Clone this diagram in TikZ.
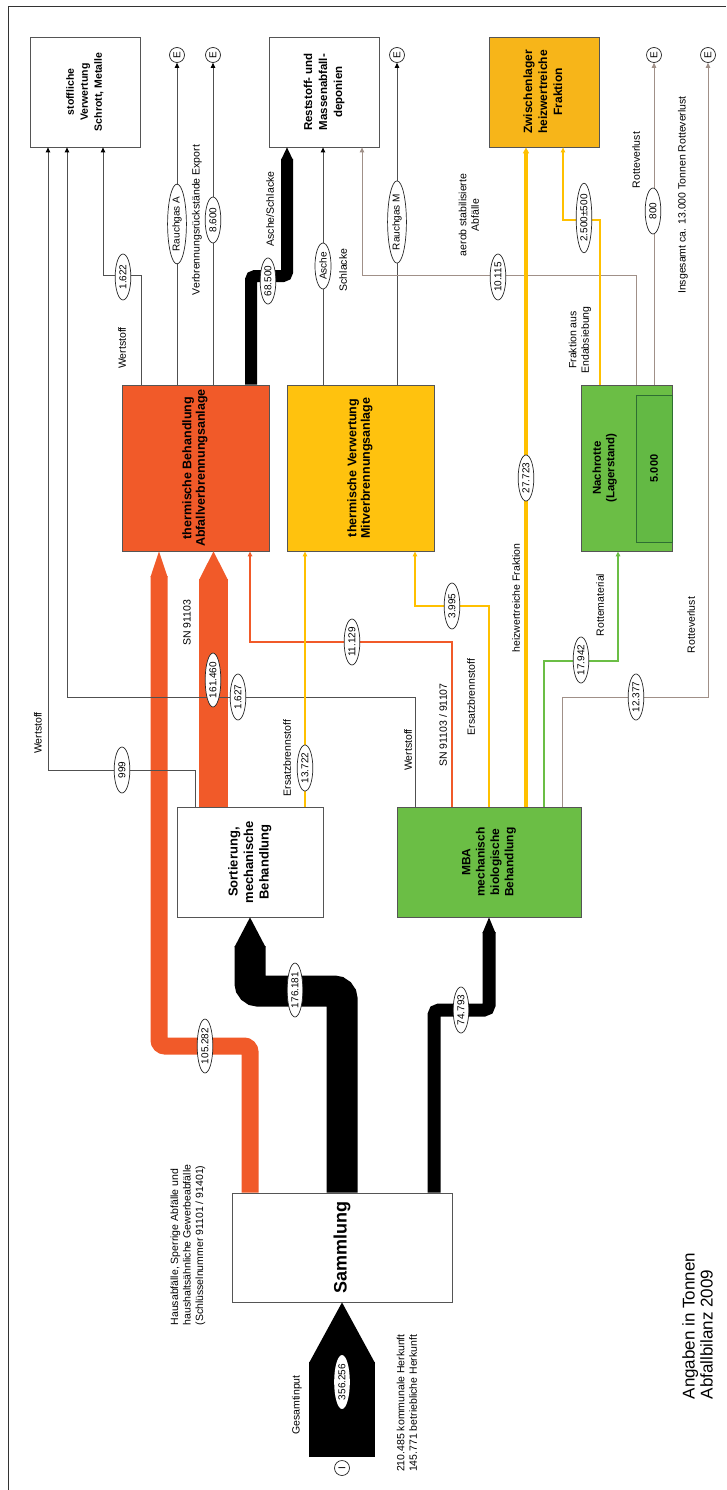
\documentclass[tikz,border=0pt]{standalone}
\usepackage{fontspec}
\setmainfont{Liberation Sans}
\usetikzlibrary{arrows.meta,shapes.geometric}
\definecolor{redc}{HTML}{F15A29}
\definecolor{yelbox}{HTML}{FFC20E}
\definecolor{yelline}{HTML}{FFC000}
\definecolor{zwfill}{HTML}{F7B519}
\definecolor{grn}{HTML}{6BBE45}
\definecolor{grnin}{HTML}{63B944}
\definecolor{grndark}{HTML}{2E6E32}
\definecolor{dgray}{HTML}{505050}
\definecolor{lbrown}{HTML}{A09088}
\definecolor{bordc}{HTML}{555555}
\newcommand\Rot[1]{\rotatebox{90}{#1}}
\newcommand\RotC[1]{\rotatebox{90}{\begin{tabular}{@{}c@{}}#1\end{tabular}}}
\newcommand\RotL[1]{\rotatebox{90}{\begin{tabular}{@{}l@{}}#1\end{tabular}}}
\tikzset{
  box/.style={draw=bordc, line width=0.8pt, rectangle, inner sep=0pt, font=\bfseries\fontsize{12}{14}\selectfont},
  lbl/.style={ellipse, draw=black!85, fill=white, line width=0.7pt, inner xsep=2pt, inner ysep=1pt, minimum height=46pt, font=\fontsize{10}{12}\selectfont},
  txt/.style={inner sep=0pt, font=\fontsize{10.5}{12.5}\selectfont},
  ec/.style={circle, draw=black!85, fill=white, line width=0.7pt, minimum size=15pt, inner sep=0pt, font=\fontsize{10}{12}\selectfont},
  lnGray/.style={-{Triangle[length=5pt,width=4.5pt,color=black]}, draw=dgray, line width=0.9pt},
  lnBrown/.style={-{Triangle[length=5pt,width=4.5pt]}, draw=lbrown, line width=0.9pt},
  lnYel/.style={-{Triangle[length=5pt,width=4.5pt]}, draw=yelline, line width=1.1pt},
  lnYelThick/.style={-{Triangle[length=6pt,width=6pt]}, draw=yelline, line width=3.5pt},
  lnRed/.style={-{Triangle[length=5pt,width=4.5pt]}, draw=redc, line width=1.6pt},
  lnGreen/.style={-{Triangle[length=5pt,width=4.5pt]}, draw=grn, line width=2.4pt},
}
\begin{document}
\begin{tikzpicture}[x=1pt,y=-1pt]
\useasboundingbox (0,0) rectangle (726,1490);
\fill[white] (0,0) rectangle (726,1490);
\draw[line width=1pt, black!80] (8,1490) -- (8,7) -- (726,7);

% ---------- boxes ----------
\node[box, fill=white, minimum width=110pt, minimum height=110pt, font=\bfseries\fontsize{10.5}{14}\selectfont] (stoff) at (85,92) {\RotC{stoffliche\\Verwertung\\Schrott, Metalle}};
\node[box, fill=white, minimum width=110pt, minimum height=110pt, font=\bfseries\fontsize{11.5}{15}\selectfont] (rest) at (324,92) {\RotC{Reststoff- und\\Massenabfall-\\deponien}};
\node[box, fill=zwfill, minimum width=110pt, minimum height=110pt, font=\bfseries\fontsize{12}{15}\selectfont] (zw) at (544,92) {\RotC{Zwischenlager\\heizwertreiche\\Fraktion}};
\node[box, fill=redc, minimum width=147pt, minimum height=166pt, font=\bfseries\fontsize{12.5}{13.5}\selectfont] (therm) at (195.5,468) {\RotC{thermische Behandlung\\Abfallverbrennungsanlage}};
\node[box, fill=yelbox, minimum width=147pt, minimum height=166pt, font=\bfseries\fontsize{12.5}{13.5}\selectfont] (mitv) at (360.5,468) {\RotC{thermische Verwertung\\Mitverbrennungsanlage}};
\node[box, fill=grn, minimum width=91pt, minimum height=166pt] (nach) at (626.5,468) {};
\node[box, draw=grndark, fill=grnin, minimum width=36pt, minimum height=147pt, font=\bfseries\fontsize{11}{13}\selectfont] (nachin) at (654,468.5) {\Rot{5.000}};
\node[inner sep=0pt, font=\bfseries\fontsize{11.5}{13.5}\selectfont] (nachT) at (605,468) {\RotC{Nachrotte\\(Lagerstand)}};
\node[box, fill=white, minimum width=146pt, minimum height=110pt, font=\bfseries\fontsize{13}{15.5}\selectfont] (sort) at (250,862) {\RotC{Sortierung,\\mechanische\\Behandlung}};
\node[box, fill=grn, minimum width=184pt, minimum height=110pt, font=\bfseries\fontsize{12}{14.3}\selectfont] (mba) at (489,862) {\RotC{MBA\\mechanisch\\biologische\\Behandlung}};
\node[box, fill=white, minimum width=220pt, minimum height=109pt, font=\bfseries\fontsize{18}{20}\selectfont] (samm) at (342,1247.5) {\Rot{Sammlung}};

% ---------- end circles ----------
\node[ec] (eA) at (177,55) {\Rot{E}};
\node[ec] (eB) at (213,55) {\Rot{E}};
\node[ec] (eM) at (397,55) {\Rot{E}};
\node[ec] (eR1) at (654,55) {\Rot{E}};
\node[ec] (eR2) at (708,55) {\Rot{E}};
\node[ec] (eI) at (342,1468) {\Rot{I}};

% ---------- thick bands ----------
\coordinate (inb) at (342,1457);
\draw[black, line width=66pt] (inb) -- (342,1362);
\fill[black] (309,1363) -- (samm.south) -- (375,1363) -- cycle;

\draw[redc, line width=17pt, rounded corners=6pt] (samm.north -| 250,0) |- (159,1046) -- (159,576);
\fill[redc] (150.5,577) -- (therm.south -| 159,0) -- (167.5,577) -- cycle;

\draw[redc, line width=29pt] (sort.north -| 213.5,0) -- (213.5,579);
\fill[redc] (199,580) -- (therm.south -| 213.5,0) -- (228,580) -- cycle;

\draw[black, line width=31pt, rounded corners=8pt] (samm.north -| 342,0) |- (250,991) -- (250,946);
\fill[black] (234.5,947) -- (sort.south -| 250,0) -- (265.5,947) -- cycle;

\draw[black, line width=13pt, rounded corners=5pt] (samm.north -| 434,0) |- (489,1010) -- (489,932);
\fill[black] (482.5,933) -- (mba.south -| 489,0) -- (495.5,933) -- cycle;

\draw[black, line width=12pt, rounded corners=4pt] (therm.north -| 251,0) |- (287,276) -- (287,159);
\fill[black] (281,160) -- (rest.south -| 287,0) -- (293,160) -- cycle;

% ---------- thin connectors ----------
\draw[lnGray] (sort.north -| 195,0) |- (48,770) -- (stoff.south -| 48,0);
\draw[lnGray] (mba.north -| 415,0) |- (67,697) -- (stoff.south -| 67,0);
\draw[lnGray] (therm.north -| 141,0) |- (103,275) -- (stoff.south -| 103,0);
\draw[lnGray] (therm.north -| 177,0) -- (eA);
\draw[lnGray] (therm.north -| 213,0) -- (eB);
\draw[lnGray] (mitv.north -| 323,0) -- (rest.south -| 323,0);
\draw[lnGray] (mitv.north -| 397,0) -- (eM);
\draw[lnBrown] (nach.north -| 636,0) |- (362,275) -- (rest.south -| 362,0);
\draw[lnBrown] (nach.north -| 654,0) -- (eR1);
\draw[lnBrown] (mba.north -| 562,0) |- (708,697) -- (eR2);
\draw[lnYelThick] (mba.north -| 526,0) -- (zw.south -| 526,0);
\draw[lnYel] (nach.north -| 600,0) |- (563,220) -- (zw.south -| 563,0);
\draw[lnGreen] (mba.north -| 544,0) |- (618,661) -- (nach.south -| 618,0);
\draw[lnYel] (mba.north -| 489,0) |- (415,606) -- (mitv.south -| 415,0);
\draw[lnRed] (mba.north -| 452,0) |- (250,642) -- (therm.south -| 250,0);
\draw[lnYel] (sort.north -| 305,0) -- (mitv.south -| 305,0);

% ---------- value labels ----------
\node[lbl] (n999) at (122,770) {\Rot{999}};
\node[lbl] (n1627) at (238,697) {\Rot{1.627}};
\node[lbl] (n1622) at (123,277) {\Rot{1.622}};
\node[lbl] (nRA) at (177,224) {\Rot{Rauchgas A}};
\node[lbl] (n8600) at (213,220) {\Rot{8.600}};
\node[lbl] (n68500) at (268,281) {\Rot{68.500}};
\node[lbl] (nAsche) at (323,266) {\Rot{Asche}};
\node[lbl] (nRM) at (397,222) {\Rot{Rauchgas M}};
\node[lbl] (n10115) at (498,277) {\Rot{10.115}};
\node[lbl] (n27723) at (526,478) {\Rot{27.723}};
\node[lbl] (n2500) at (584,218) {\Rot{2.500±500}};
\node[lbl] (n800) at (653,211) {\Rot{800}};
\node[lbl] (n12377) at (636,697) {\Rot{12.377}};
\node[lbl] (n17942) at (581,660) {\Rot{17.942}};
\node[lbl] (n3995) at (452,606) {\Rot{3.995}};
\node[lbl] (n11129) at (352,642) {\Rot{11.129}};
\node[lbl] (n13722) at (305,768) {\Rot{13.722}};
\node[lbl] (n161460) at (213,680) {\Rot{161.460}};
\node[lbl] (n105282) at (205,1046) {\Rot{105.282}};
\node[lbl] (n176181) at (295,990) {\Rot{176.181}};
\node[lbl] (n74793) at (461,1010) {\Rot{74.793}};
\node[lbl, draw=none] (n356) at (342,1382) {\Rot{356.256}};

% ---------- texts ----------
\node[txt] (t1) at (38,733) {\Rot{Wertstoff}};
\node[txt] (t2) at (122,348) {\Rot{Wertstoff}};
\node[txt] (t3) at (408,750) {\Rot{Wertstoff}};
\node[txt] (t4) at (197,220) {\Rot{Verbrennungsrückstände Export}};
\node[txt] (t5) at (270,209) {\Rot{Asche/Schlacke}};
\node[txt] (t6) at (343,270) {\Rot{Schlacke}};
\node[txt] (t7) at (470,215) {\RotC{aerob stabilisierte\\Abfälle}};
\node[txt] (t8) at (516,598) {\Rot{heizwertreiche Fraktion}};
\node[txt] (t9) at (580,340) {\RotC{Fraktion aus\\Endabsiebung}};
\node[txt] (t10) at (636,160) {\Rot{Rotteverlust}};
\node[txt] (t11) at (691,625) {\Rot{Rotteverlust}};
\node[txt] (t12) at (683,195) {\Rot{Insgesamt ca. 13.000 Tonnen Rotteverlust}};
\node[txt] (t13) at (600,605) {\Rot{Rottematerial}};
\node[txt] (t14) at (471,697) {\Rot{Ersatzbrennstoff}};
\node[txt] (t15) at (443,725) {\Rot{SN 91103 / 91107}};
\node[txt] (t16) at (287,758) {\Rot{Ersatzbrennstoff}};
\node[txt] (t17) at (187,623) {\Rot{SN 91103}};
\node[txt] (t18) at (297,1405) {\Rot{Gesamtinput}};
\node[txt] (t19) at (408,1403) {\RotL{210.485 kommunale Herkunft\\145.771 betriebliche Herkunft}};
\node[txt] (t20) at (188,1245) {\RotL{Hausabfälle, Sperrige Abfälle und\\haushaltsähnliche Gewerbeabfälle\\(Schlüsselnummer 91101 / 91401)}};
\node[txt, font=\fontsize{17}{18}\selectfont] (t21) at (700,1326) {\RotL{Angaben in Tonnen\\Abfallbilanz 2009}};
\end{tikzpicture}
\end{document}
